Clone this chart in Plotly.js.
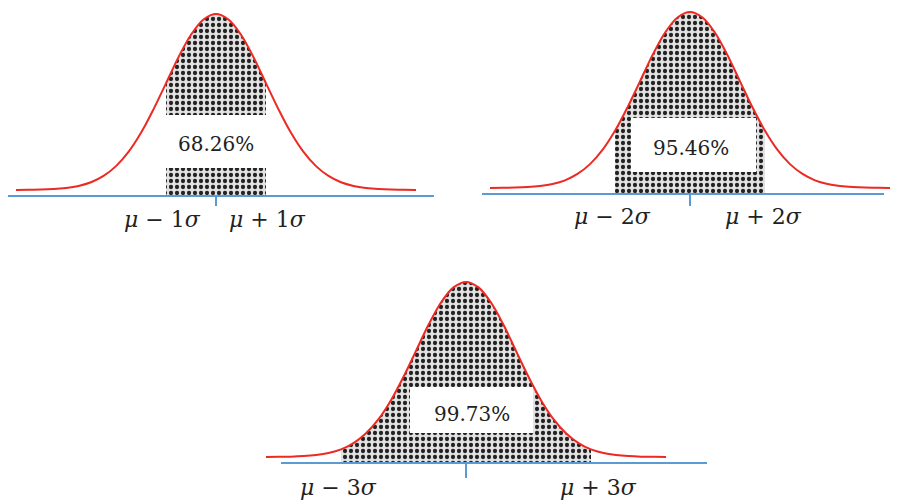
<!DOCTYPE html>
<html>
<head>
<meta charset="utf-8">
<script src="https://cdn.plot.ly/plotly-3.0.1.min.js"></script>
<style>
  html, body { margin: 0; padding: 0; background: #fff; }
  #plot { width: 897px; height: 504px; }
</style>
</head>
<body>
<div id="plot"></div>
<script>
// x in units of sigma, height relative to the peak (axis line = 0)
var sigmaX = [-4, -3.75, -3.5, -3.25, -3, -2.75, -2.5, -2.25, -2, -1.75, -1.5, -1.25, -1, -0.75, -0.5, -0.25,
              0, 0.25, 0.5, 0.75, 1, 1.25, 1.5, 1.75, 2, 2.25, 2.5, 2.75, 3, 3.25, 3.5, 3.75, 4];
var density = [0.033, 0.034, 0.035, 0.038, 0.044, 0.055, 0.075, 0.110, 0.164, 0.242, 0.347, 0.476, 0.619, 0.763, 0.886, 0.970,
               1.000, 0.970, 0.886, 0.763, 0.619, 0.476, 0.347, 0.242, 0.164, 0.110, 0.075, 0.055, 0.044, 0.038, 0.035, 0.034, 0.033];

// shaded ranges of the three panels
var shadeLo = [-1, -1.5, -2.5];
var shadeHi = [1, 1.5, 2.5];
var percentLabels = ['68.26%', '95.46%', '99.73%'];
var lowLabels = ['<i>μ</i> − 1<i>σ</i>', '<i>μ</i> − 2<i>σ</i>', '<i>μ</i> − 3<i>σ</i>'];
var highLabels = ['<i>μ</i> + 1<i>σ</i>', '<i>μ</i> + 2<i>σ</i>', '<i>μ</i> + 3<i>σ</i>'];

var red = '#ec2a22';
var blue = '#5b9bd5';

var data = [];
for (var i = 0; i < 3; i++) {
  var xa = i === 0 ? 'x' : 'x' + (i + 1);
  var ya = i === 0 ? 'y' : 'y' + (i + 1);
  var sx = [], sy = [];
  for (var k = 0; k < sigmaX.length; k++) {
    if (sigmaX[k] >= shadeLo[i] && sigmaX[k] <= shadeHi[i]) {
      sx.push(sigmaX[k]);
      sy.push(density[k]);
    }
  }
  // shaded area
  data.push({
    x: sx, y: sy, xaxis: xa, yaxis: ya,
    type: 'scatter', mode: 'lines', fill: 'tozeroy',
    line: {width: 0, shape: 'spline'},
    fillcolor: '#d0d0d0',
    fillpattern: {shape: '.', fgcolor: '#222', bgcolor: '#e2e2e2', size: 6, solidity: 0.4},
    hoverinfo: 'skip'
  });
  // the curve
  data.push({
    x: sigmaX, y: density, xaxis: xa, yaxis: ya,
    type: 'scatter', mode: 'lines',
    line: {color: red, width: 2, shape: 'spline'}
  });
}

var hidden = {showgrid: false, zeroline: false, showticklabels: false, ticks: '', showline: false, fixedrange: true};
function ax(dom, rng, anchor) {
  return Object.assign({domain: dom, range: rng, anchor: anchor}, hidden);
}

// axis line, centre tick, white label box for each panel
var axisEnds = [[-4.16, 4.36], [-4.16, 3.88], [-3.7, 4.82]];
var tickLen = [0.055, 0.066, 0.083];
var boxes = [[-1.05, 1.1, 0.154, 0.445], [-1.18, 1.32, 0.121, 0.418], [-1.12, 1.34, 0.166, 0.42]];
var textPos = [[0, 0.286], [0.02, 0.253], [0.12, 0.271]];
var lowPos = [[-1.08, -0.132], [-1.56, -0.126], [-2.56, -0.138]];
var highPos = [[1.02, -0.132], [1.46, -0.126], [2.64, -0.138]];

var shapes = [], annotations = [];
for (var j = 0; j < 3; j++) {
  var xr = j === 0 ? 'x' : 'x' + (j + 1);
  var yr = j === 0 ? 'y' : 'y' + (j + 1);
  shapes.push({type: 'rect', xref: xr, yref: yr, x0: boxes[j][0], x1: boxes[j][1], y0: boxes[j][2], y1: boxes[j][3],
               fillcolor: '#fff', line: {width: 0}, layer: 'above'});
  shapes.push({type: 'line', xref: xr, yref: yr, x0: axisEnds[j][0], x1: axisEnds[j][1], y0: 0, y1: 0,
               line: {color: blue, width: 2}, layer: 'above'});
  shapes.push({type: 'line', xref: xr, yref: yr, x0: 0, x1: 0, y0: 0, y1: -tickLen[j],
               line: {color: blue, width: 2}, layer: 'above'});
  annotations.push({xref: xr, yref: yr, x: textPos[j][0], y: textPos[j][1], text: percentLabels[j], showarrow: false,
                    font: {family: 'DejaVu Serif', size: 20, color: '#222'}});
  annotations.push({xref: xr, yref: yr, x: lowPos[j][0], y: lowPos[j][1], text: lowLabels[j], showarrow: false,
                    font: {family: 'DejaVu Serif', size: 22, color: '#222'}});
  annotations.push({xref: xr, yref: yr, x: highPos[j][0], y: highPos[j][1], text: highLabels[j], showarrow: false,
                    font: {family: 'DejaVu Serif', size: 22, color: '#222'}});
}

var layout = {
  width: 897, height: 504,
  margin: {l: 0, r: 0, t: 0, b: 0},
  paper_bgcolor: '#fff', plot_bgcolor: 'rgba(0,0,0,0)',
  showlegend: false,
  xaxis: ax([0, 445 / 897], [-4.32, 4.58], 'y'),
  yaxis: ax([0.5159, 0.9921], [-0.264, 1.055], 'x'),
  xaxis2: ax([452 / 897, 1], [-4.76, 4.14], 'y2'),
  yaxis2: ax([0.5198, 0.996], [-0.264, 1.055], 'x2'),
  xaxis3: ax([240 / 897, 720 / 897], [-4.52, 5.08], 'y3'),
  yaxis3: ax([0, 0.4802], [-0.2265, 1.11], 'x3'),
  shapes: shapes,
  annotations: annotations
};

Plotly.newPlot('plot', data, layout, {staticPlot: true});
</script>
</body>
</html>
